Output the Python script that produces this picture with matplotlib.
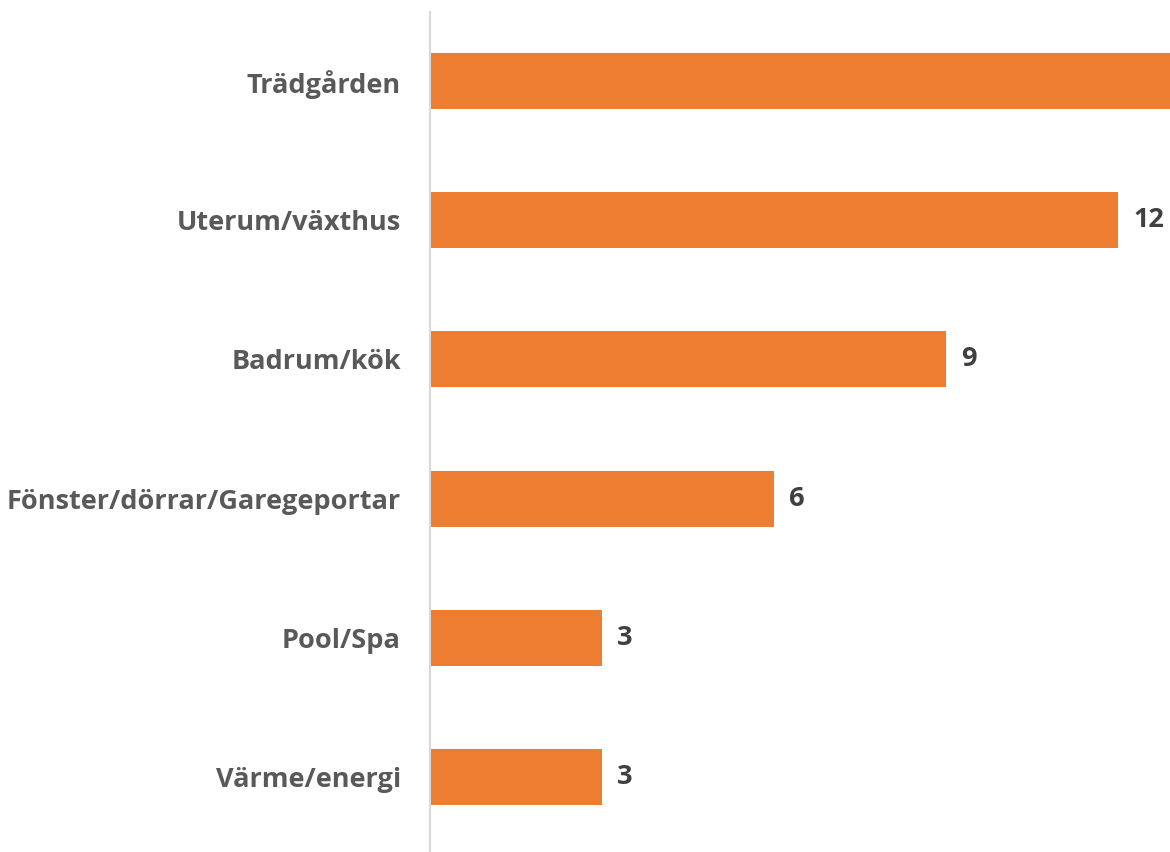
import matplotlib.pyplot as plt

# data (top to bottom); first bar runs off the right edge in the reference
categories = ["Trädgården", "Uterum/växthus", "Badrum/kök",
              "Fönster/dörrar/Garegeportar", "Pool/Spa", "Värme/energi"]
values = [15, 12, 9, 6, 3, 3]

bar_color = "#ED7D31"
label_gray = "#595959"
value_gray = "#404040"

plt.rcParams['font.family'] = ['Open Sans', 'DejaVu Sans']

fig = plt.figure(figsize=(11.7, 8.52), dpi=100)
ax = fig.add_axes([430 / 1170, 0.0, 740 / 1170, 1 - 11.5 / 852])

y = list(range(len(categories)))
bars = ax.barh(y, values, height=0.403, color=bar_color)

ax.set_xlim(0, 740 / 57.33)
ax.set_ylim(5.5 + 5.5 / 141.5, -0.5)

ax.set_yticks(y)
ax.set_yticklabels(categories, fontsize=19.5, fontweight="bold", color=label_gray)
ax.tick_params(axis="y", length=0, pad=21)
ax.set_xticks([])

for s in ["top", "right", "bottom"]:
    ax.spines[s].set_visible(False)
ax.spines["left"].set_color("#D9D9D9")
ax.spines["left"].set_linewidth(1.5)

for rect, v in zip(bars, values):
    ax.annotate(str(v), (rect.get_width(), rect.get_y() + rect.get_height() / 2),
                xytext=(15, 0), textcoords="offset pixels",
                va="center", ha="left", fontsize=19.5, fontweight="bold",
                color=value_gray, annotation_clip=True)

fig.savefig("out.png", dpi=100)
